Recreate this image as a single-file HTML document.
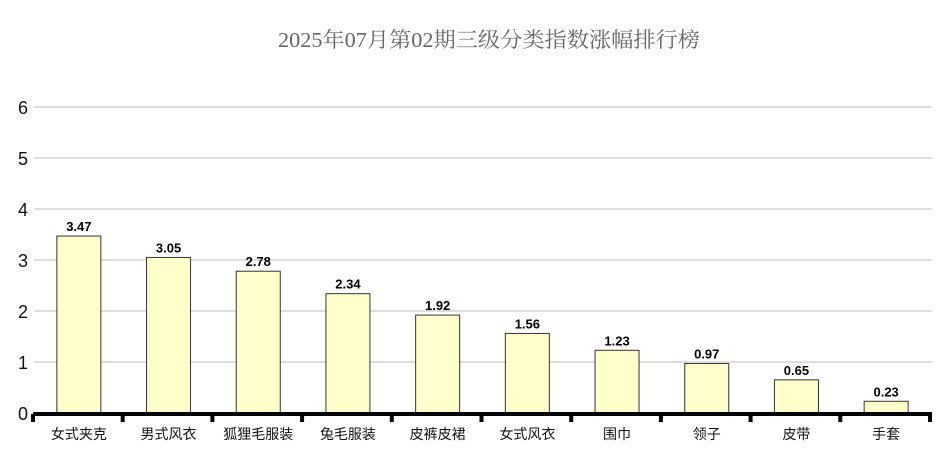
<!DOCTYPE html>
<html><head><meta charset="utf-8"><style>
body{margin:0;background:#fff;}
svg{display:block;font-family:"Liberation Sans","Noto Sans CJK SC",sans-serif;}
</style></head><body>
<svg width="952" height="469" viewBox="0 0 952 469">
<text x="489" y="47" text-anchor="middle" font-size="21" fill="#666" font-family="'Liberation Serif','Noto Serif CJK SC',serif" textLength="422" lengthAdjust="spacingAndGlyphs">2025年07月第02期三级分类指数涨幅排行榜</text>
<g id="grid"></g><g id="bars"></g><g id="axis"></g>
</svg>
<script>
const categories=["女式夹克","男式风衣","狐狸毛服装","兔毛服装","皮裤皮裙","女式风衣","围巾","领子","皮带","手套"];
const values=[3.47,3.05,2.78,2.34,1.92,1.56,1.23,0.97,0.65,0.23];
const yTicks=[0,1,2,3,4,5,6];
const NS="http://www.w3.org/2000/svg";
const x0=34,x1=931,y0=413,yTop=107,yMax=6;
const band=(x1-x0)/categories.length;
const ys=v=>y0-(v/yMax)*(y0-yTop);
const xs=i=>x0+band*(i+0.5);
function mk(t,a,p){const e=document.createElementNS(NS,t);for(const k in a)e.setAttribute(k,a[k]);p.appendChild(e);return e;}
const g=document.getElementById('grid'),b=document.getElementById('bars'),ax=document.getElementById('axis');
yTicks.forEach(t=>{
  if(t>0){const l=mk('line',{x1:x0,x2:932,y1:ys(t),y2:ys(t),stroke:'#bbb','stroke-width':1},g);
  
  }
  const tx=mk('text',{x:28,y:ys(t)+7,'text-anchor':'end','font-size':18,fill:'#111'},g);
  tx.textContent=t;
  
  
});
values.forEach((v,i)=>{
  const cx=xs(i),w=44;
  const r=mk('rect',{x:cx-w/2,y:ys(v),width:w,height:y0-ys(v),fill:'#ffffcc',stroke:'#333','stroke-width':1},b);
  
  
  const t=mk('text',{x:cx,y:ys(v)-5,'text-anchor':'middle','font-size':13,'font-weight':'bold',fill:'#000'},b);
  t.textContent=v.toFixed(2);
  
  
  const c=mk('text',{x:cx,y:439,'text-anchor':'middle','font-size':14,fill:'#111'},ax);
  c.textContent=categories[i];
  
  
});
const base=mk('line',{x1:33,x2:932,y1:414,y2:414,stroke:'#000','stroke-width':4},ax);


for(let i=0;i<=categories.length;i++){
  const x=Math.min(33+band*i,930);
  const tk=mk('line',{x1:x,x2:x,y1:414,y2:422,stroke:'#000','stroke-width':4},ax);
  
  
}
</script>
</body></html>
